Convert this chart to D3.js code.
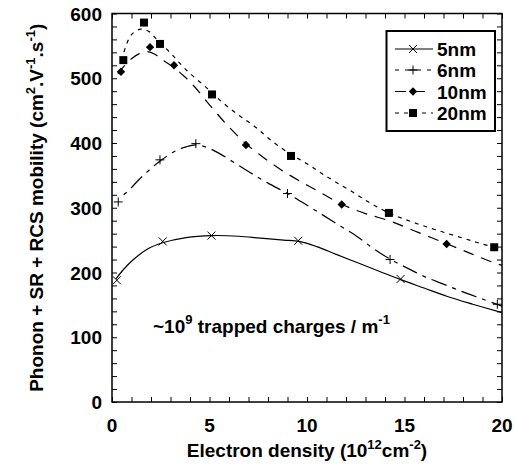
<!DOCTYPE html>
<html><head><meta charset="utf-8">
<script src="https://cdn.jsdelivr.net/npm/d3@7"></script>
<style>
body{margin:0;background:#fff}
svg{display:block}
text{font-family:"Liberation Sans",Arial,sans-serif;font-weight:bold;fill:#000}
</style>
</head><body><svg id="c" width="516" height="467"></svg>
<script>
// ---------- data ----------
const seriesNames = ["5nm", "6nm", "10nm", "20nm"];
const xTickValues = [0, 5, 10, 15, 20];
const yTickValues = [0, 100, 200, 300, 400, 500, 600];

// model curves (x: 10^12 cm^-2, y: mobility)
const curve5nm = [[0.2,190],[0.6,205],[1.1,220],[1.8,236],[2.6,246],[3.8,254],[5.1,257],[6.5,256],[7.6,253],[8.8,250],[9.6,248],[10.5,240],[11.5,228],[12.6,215],[13.7,202],[14.8,189],[16,176],[17.2,163],[18.5,151],[20,138]];
const curve6nm = [[0.6,320],[0.9,328],[1.4,344],[1.9,358],[2.5,373],[3.2,387],[3.8,394],[4.3,397],[4.8,394],[5.5,384],[6.3,369],[7.1,354],[8.0,338],[9.0,322],[10.0,304],[10.8,289],[11.7,272],[12.6,255],[13.4,237],[14.3,220],[15.2,206],[16.0,194],[17.0,182],[18.0,170],[19.0,159],[20,148]];
const curve10nm = [[0.3,507],[0.6,518],[1.0,530],[1.4,538],[1.8,541],[2.2,537],[2.6,528],[3.2,516],[3.7,503],[4.2,488],[5.0,459],[5.9,428],[6.9,398],[7.8,377],[8.7,358],[9.7,340],[10.6,325],[11.8,305],[13.0,291],[14.3,279],[15.7,262],[17.2,244],[18.5,228],[19.6,215],[20,211]];
const curve20nm = [[0.5,527],[0.75,553],[1.05,569],[1.5,576],[1.9,572],[2.3,560],[3.0,539],[3.8,513],[4.9,484],[5.5,467],[6.4,445],[7.3,426],[8.2,403],[9.2,382],[10.0,368],[10.7,354],[11.4,341],[12.3,325],[13.2,308],[14.2,292],[15.3,279],[16.6,266],[18.0,253],[19.0,244],[20,236]];

// simulated points (markers)
const points5nm = [[0.25,188],[2.6,248],[5.1,257],[9.55,249],[14.8,190]];
const points6nm = [[0.32,309],[2.46,374],[4.3,399],[9.0,322],[14.26,220],[19.76,151]];
const points10nm = [[0.46,510],[1.95,548],[3.18,520],[6.87,397],[11.78,305],[17.16,244]];
const points20nm = [[0.58,528],[1.64,586],[2.46,553],[5.13,475],[9.18,380],[14.2,292],[19.6,239]];

// ---------- chart ----------
const svg = d3.select("#c");
const X0 = 112, X1 = 502, Y0 = 402, Y1 = 13.5;
const x = d3.scaleLinear().domain([0, 20]).range([X0, X1]);
const y = d3.scaleLinear().domain([0, 600]).range([Y0, Y1]);

const styles = [
  {curve: curve5nm, pts: points5nm, dash: null, marker: "times"},
  {curve: curve6nm, pts: points6nm, dash: "4,6,16,6", marker: "plus"},
  {curve: curve10nm, pts: points10nm, dash: "11,8", marker: "diamond"},
  {curve: curve20nm, pts: points20nm, dash: "4,5", marker: "square"}
];

function markerPath(type) {
  if (type === "times") return "M-4,-4L4,4M-4,4L4,-4";
  if (type === "plus") return "M-4.5,0L4.5,0M0,-4.5L0,4.5";
  if (type === "diamond") return "M0,-4.2L4.2,0L0,4.2L-4.2,0Z";
  return "M-4,-4L4,-4L4,4L-4,4Z";
}
function drawMarker(g, type, cx, cy) {
  const p = g.append("path").attr("d", markerPath(type)).attr("transform", `translate(${cx},${cy})`);
  if (type === "times" || type === "plus") p.attr("fill", "none").attr("stroke", "#000").attr("stroke-width", 1);
  else p.attr("fill", "#000").attr("stroke", "none");
}

const lineGen = d3.line().x(d => x(d[0])).y(d => y(d[1])).curve(d3.curveCatmullRom.alpha(0.5));
const plotG = svg.append("g");
styles.forEach(s => {
  plotG.append("path").datum(s.curve).attr("d", lineGen)
    .attr("fill", "none").attr("stroke", "#000").attr("stroke-width", 1.2)
    .attr("stroke-dasharray", s.dash);
  s.pts.forEach(p => drawMarker(plotG, s.marker, x(p[0]), y(p[1])));
});

// axes (ticks inward on all four sides)
const xMinor = d3.range(0, 21, 1);
const yMinor = d3.range(0, 601, 20);
const axisB = d3.axisBottom(x).tickValues(xMinor).tickSize(-5).tickFormat("");
const axisT = d3.axisTop(x).tickValues(xMinor).tickSize(-5).tickFormat("");
const axisL = d3.axisLeft(y).tickValues(yMinor).tickSize(-5).tickFormat("");
const axisR = d3.axisRight(y).tickValues(yMinor).tickSize(-5).tickFormat("");
const axG = svg.append("g");
axG.append("g").attr("transform", `translate(0,${Y0})`).call(axisB);
axG.append("g").attr("transform", `translate(0,${Y1})`).call(axisT);
axG.append("g").attr("transform", `translate(${X0},0)`).call(axisL);
axG.append("g").attr("transform", `translate(${X1},0)`).call(axisR);
axG.selectAll(".domain").remove();
axG.selectAll(".tick line").attr("stroke", "#000").attr("stroke-width", 1);
svg.append("rect").attr("x", X0).attr("y", Y1).attr("width", X1 - X0).attr("height", Y0 - Y1)
  .attr("fill", "none").attr("stroke", "#000").attr("stroke-width", 1.5);

// tick labels
svg.append("g").selectAll("text").data(xTickValues).join("text")
  .attr("x", d => x(d)).attr("y", 432).attr("text-anchor", "middle")
  .attr("font-size", 19).text(d => d);
svg.append("g").selectAll("text").data(yTickValues).join("text")
  .attr("x", 102).attr("y", d => y(d) + 7).attr("text-anchor", "end")
  .attr("font-size", 19).text(d => d);

// axis titles
const xt = svg.append("text").attr("x", (X0 + X1) / 2).attr("y", 457).attr("text-anchor", "middle").attr("font-size", 19);
xt.append("tspan").text("Electron density (10");
xt.append("tspan").attr("dy", -8).attr("font-size", 13).text("12");
xt.append("tspan").attr("dy", 8).text("cm");
xt.append("tspan").attr("dy", -8).attr("font-size", 13).text("-2");
xt.append("tspan").attr("dy", 8).text(")");

const yt = svg.append("text").attr("transform", `translate(43,${(Y0 + Y1) / 2}) rotate(-90)`)
  .attr("text-anchor", "middle").attr("font-size", 19);
yt.append("tspan").text("Phonon + SR + RCS mobility  (cm");
yt.append("tspan").attr("dy", -8).attr("font-size", 13).text("2");
yt.append("tspan").attr("dy", 8).text(".V");
yt.append("tspan").attr("dy", -8).attr("font-size", 13).text("-1");
yt.append("tspan").attr("dy", 8).text(".s");
yt.append("tspan").attr("dy", -8).attr("font-size", 13).text("-1");
yt.append("tspan").attr("dy", 8).text(")");

// annotation
const an = svg.append("text").attr("x", 153).attr("y", 333).attr("font-size", 19);
an.append("tspan").text("~10");
an.append("tspan").attr("dy", -9).attr("font-size", 13).text("9");
an.append("tspan").attr("dy", 9).text(" trapped charges / m");
an.append("tspan").attr("dy", -9).attr("font-size", 13).text("-1");

// legend
const lg = svg.append("g");
lg.append("rect").attr("x", 386.5).attr("y", 31).attr("width", 108.5).attr("height", 100)
  .attr("fill", "#fff").attr("stroke", "#000").attr("stroke-width", 2);
const legendY = [49, 70, 91.5, 113];
styles.forEach((s, i) => {
  const ly = legendY[i];
  lg.append("line").attr("x1", 395).attr("x2", 433).attr("y1", ly).attr("y2", ly)
    .attr("stroke", "#000").attr("stroke-width", 1.2).attr("stroke-dasharray", s.dash);
  drawMarker(lg, s.marker, 413, ly);
  lg.append("text").attr("x", 437).attr("y", ly + 7).attr("font-size", 19).text(seriesNames[i]);
});
</script>
</body></html>
